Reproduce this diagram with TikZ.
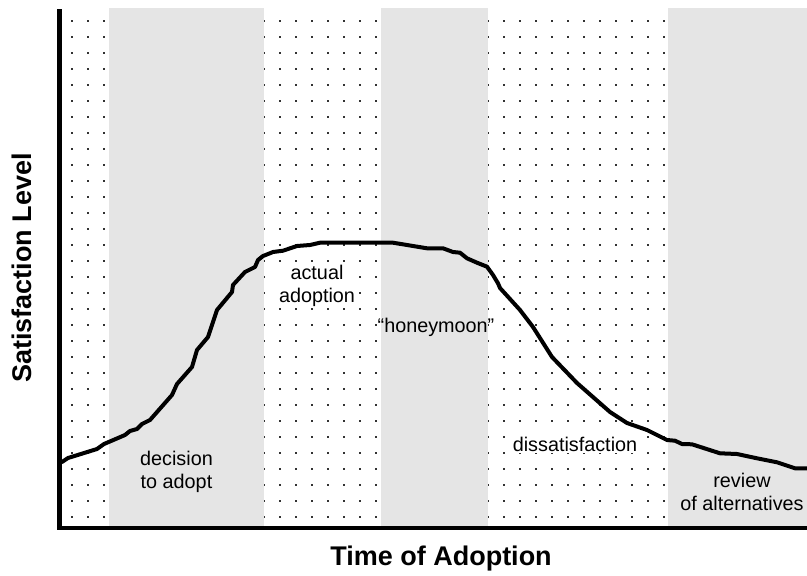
\documentclass[tikz,border=0pt]{standalone}
\usepackage{fontspec}
\setmainfont{Liberation Sans}
\usepackage{tikz, xcolor}
\definecolor{bandgray}{RGB}{229,229,229}
\definecolor{dotgray}{RGB}{50,50,50}

\begin{document}
\begin{tikzpicture}[x=1pt, y=-1pt]
\tikzstyle{band}=[fill=bandgray, draw=none]
\tikzstyle{phase}=[align=center, anchor=base, inner sep=1pt, font=\fontsize{19.8}{23}\selectfont]
\tikzstyle{phasew}=[phase, fill=white]
\tikzstyle{axislabel}=[anchor=base, inner sep=0pt, font=\fontsize{27}{30}\selectfont\bfseries]
\tikzstyle{axisline}=[line width=4.3pt]
\tikzstyle{curvestyle}=[line width=4pt, line join=round, line cap=round]

\useasboundingbox (0,0) rectangle (807,576);

% dot grid, the bands cover it
\foreach \i in {0,...,45}
  \foreach \j in {0,...,31}
    \fill[dotgray] (70.9+16*\i, 19.9+16*\j) rectangle ++(1.7,1.7);

\fill[band] (109,8) rectangle (264,526);
\fill[band] (381,8) rectangle (488,526);
\fill[band] (668,8) rectangle (807,526);

% base of a two-line node is its last line
\node[phase] (P0) at (176.5,488) {decision\\to adopt};
\node[phasew] (P1) at (317,302.7) {actual\\adoption};
\node[phase] (P2) at (436,332.7) {``honeymoon''};
\node[phasew] (P3) at (575,451.7) {dissatisfaction};
\node[phase] (P4) at (742,510) {review\\of alternatives};

\draw[curvestyle] (62,462) -- (68,458) -- (97,449) -- (104,444) -- (125,435)
  -- (130,431) -- (137,429) -- (142,424) -- (150,420) -- (172,395) -- (177,384)
  -- (192,367) -- (197,350) -- (208,337) -- (217,310) -- (232,292) -- (233,285)
  -- (245,272) -- (255,267) -- (258,260) -- (263,256) -- (273,252) -- (283,250.7)
  -- (297,246) -- (310,245) -- (320,242.7) -- (393,242.7) -- (407,245)
  -- (427,248.3) -- (443,248.3) -- (453,252) -- (460,252.7) -- (467,258.3)
  -- (477,262.7) -- (487,266.7) -- (493,275) -- (498,283.3) -- (500,288)
  -- (520,310) -- (533,327) -- (552,357) -- (577,383) -- (610,412) -- (627,423)
  -- (647,430) -- (667,440) -- (675,440.7) -- (682,444) -- (692,444.3)
  -- (720,453.3) -- (737,454) -- (757,458.3) -- (777,462.3) -- (795,468.3)
  -- (807,468.3);

\coordinate (Otop) at (59.5,9);
\coordinate (O) at (59.5,528);
\coordinate (Xend) at (807,528);
\draw[axisline] (Otop) -- (O |- 0,530);
\draw[axisline] (57.35,528) -- (Xend);

\node[axislabel] (XL) at (441,565) {Time of Adoption};
\node[axislabel, anchor=center, rotate=90] (YL) at (22,268) {Satisfaction Level};
\end{tikzpicture}
\end{document}
